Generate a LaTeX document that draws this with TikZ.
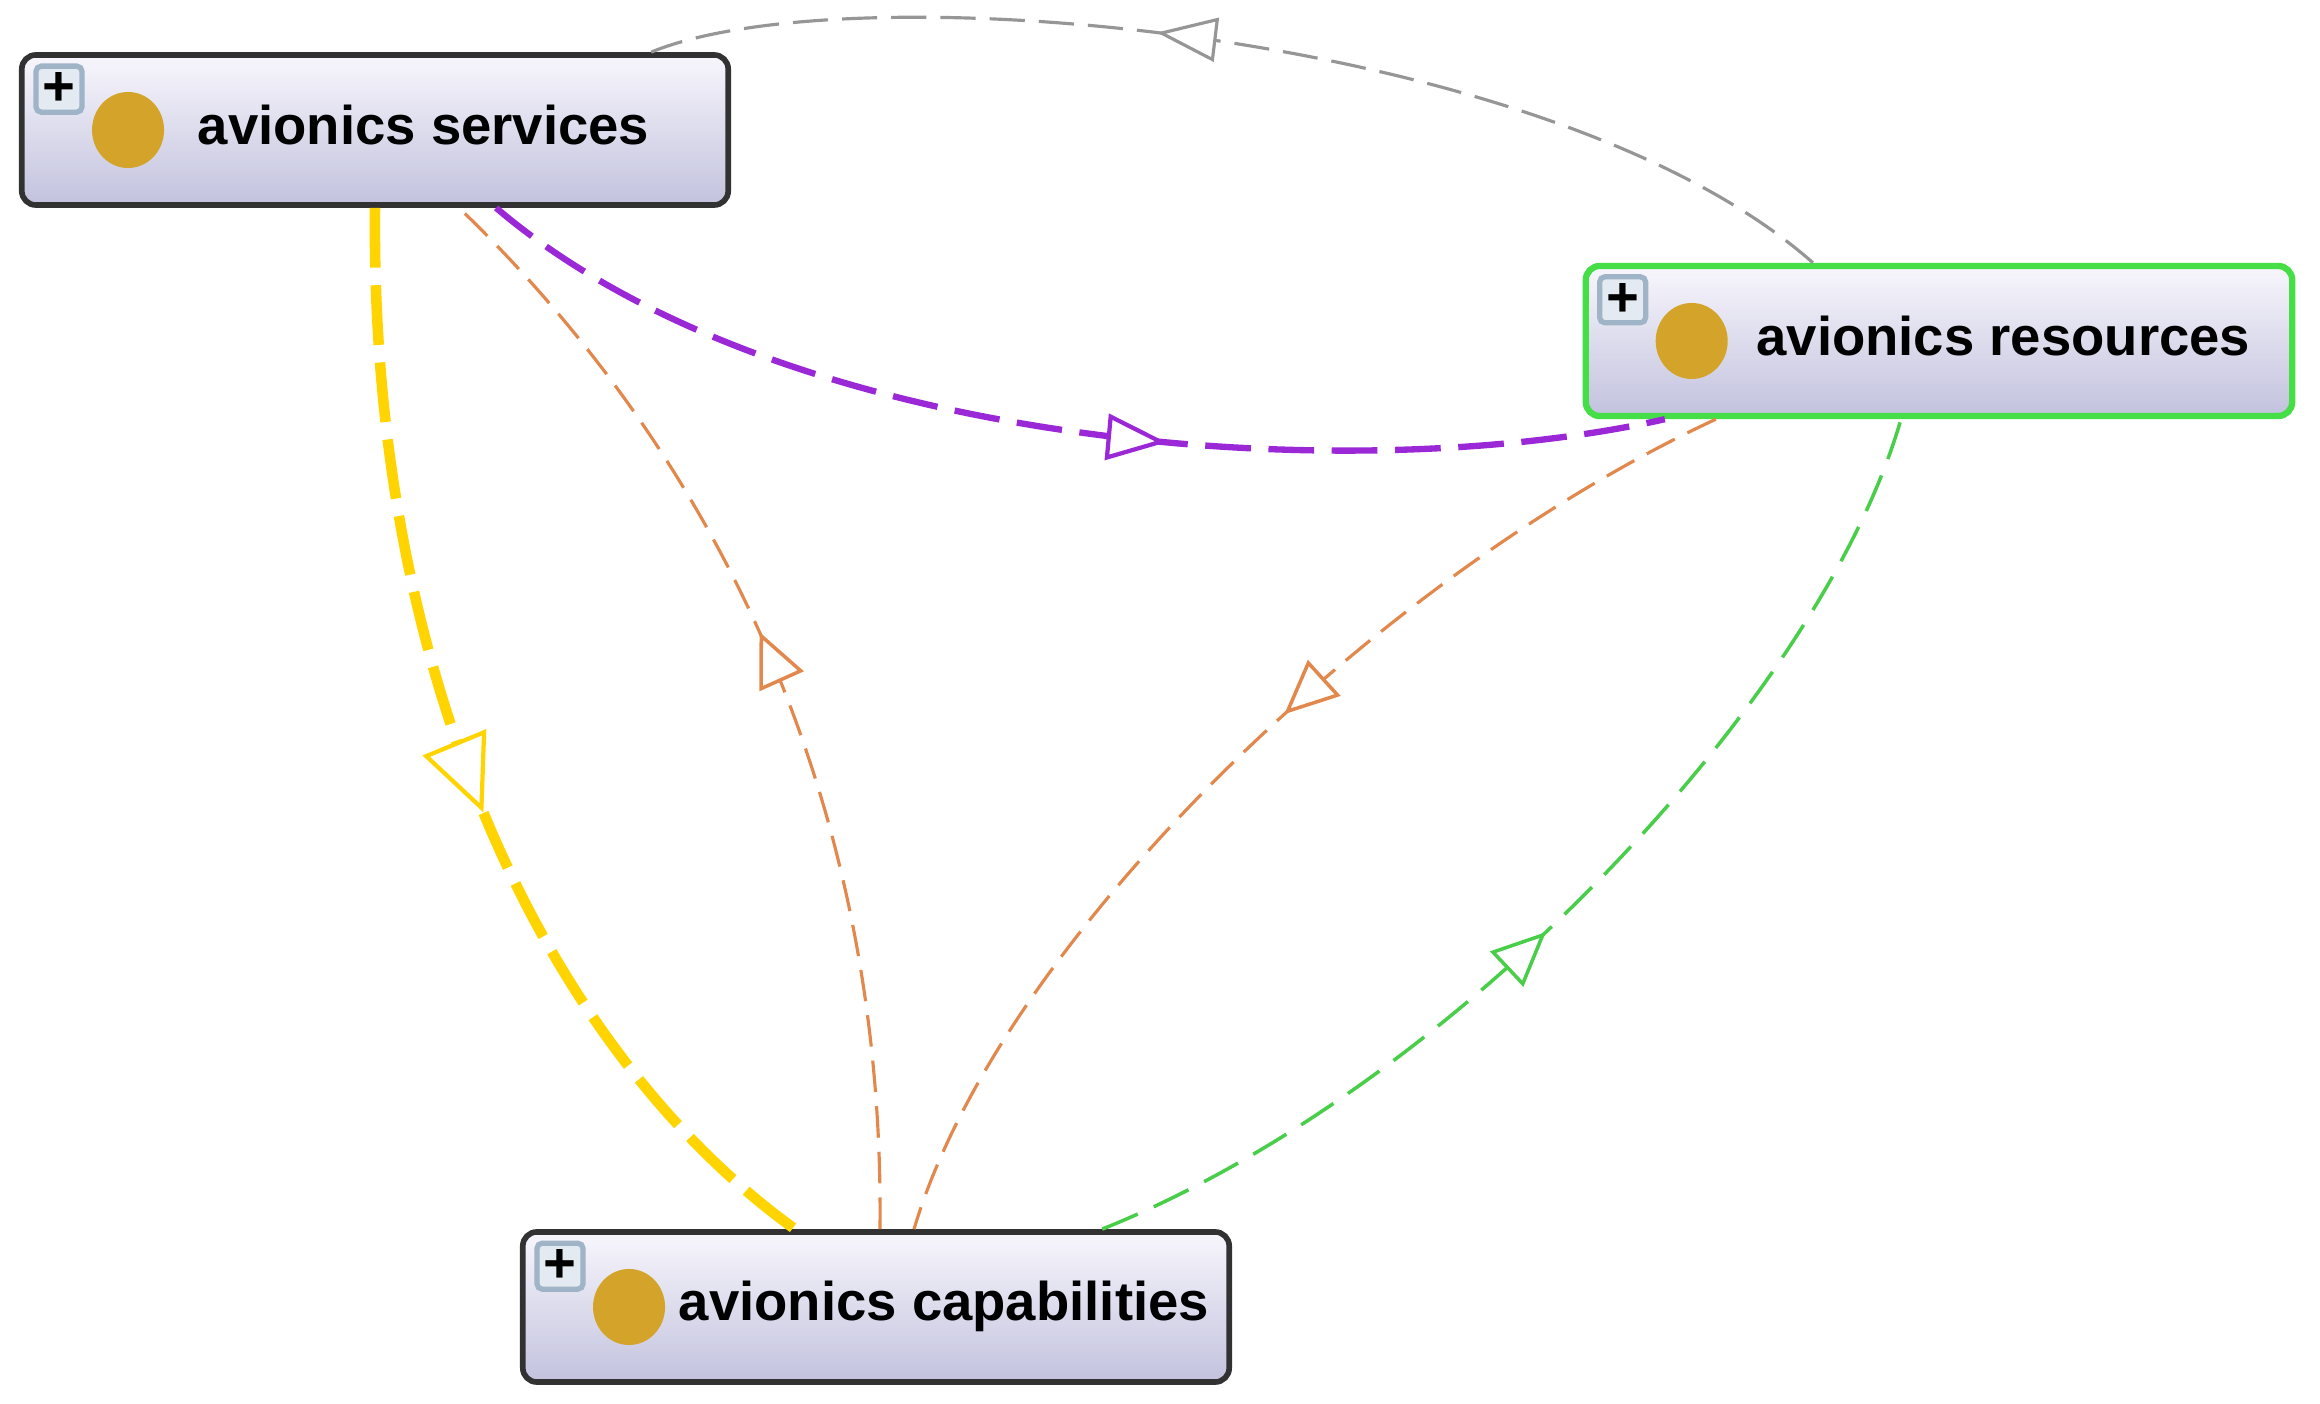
\documentclass[tikz,border=0pt]{standalone}
\usepackage{fontspec}
\setmainfont{Liberation Sans}
\usetikzlibrary{arrows.meta, positioning, shapes.geometric, decorations.markings}

\definecolor{boxtop}{RGB}{248,246,252}
\definecolor{boxbottom}{RGB}{194,194,222}
\definecolor{boxline}{RGB}{50,50,50}
\definecolor{selline}{RGB}{70,222,70}
\definecolor{dotgold}{RGB}{212,164,42}
\definecolor{plusfill}{RGB}{228,234,242}
\definecolor{plusline}{RGB}{160,180,200}
\definecolor{linkyellow}{RGB}{255,212,0}
\definecolor{linkorange}{RGB}{226,136,76}
\definecolor{linkpurple}{RGB}{155,40,215}
\definecolor{linkgreen}{RGB}{72,206,72}
\definecolor{linkgray}{RGB}{150,150,150}

\begin{document}
\begin{tikzpicture}[x=0.01cm, y=-0.01cm,
        box/.style={rectangle, draw=boxline, line width=1.6pt, rounded corners=4pt, minimum width=7.06cm, minimum height=1.5cm, top color=boxtop, bottom color=boxbottom},
        plusbox/.style={rectangle, draw=plusline, line width=1.5pt, fill=plusfill, rounded corners=1.5pt, minimum size=0.46cm, inner sep=0pt, font=\bfseries\fontsize{16}{16}\selectfont},
        dot/.style={ellipse, fill=dotgold, minimum width=0.72cm, minimum height=0.76cm, inner sep=0pt},
        title/.style={anchor=base west, inner sep=0pt, font=\bfseries\fontsize{15.5}{18}\selectfont},
        midtip/.style n args={4}{postaction={decorate}, decoration={markings, mark=at position #1 with {\arrow{Triangle[fill=white, length=#2, width=#3, line width=#4]}}}},
        yellowlink/.style={draw=linkyellow, line width=3pt, dash pattern=on 17pt off 5pt},
        orangelink/.style={draw=linkorange, line width=0.9pt, dash pattern=on 9pt off 4pt},
        purplelink/.style={draw=linkpurple, line width=1.8pt, dash pattern=on 13pt off 5pt},
        greenlink/.style={draw=linkgreen, line width=1pt, dash pattern=on 11pt off 5pt},
        graylink/.style={draw=linkgray, line width=0.9pt, dash pattern=on 10pt off 4pt}
    ]
        \useasboundingbox (0,0) rectangle (2320,1404);

        % classes
        \node[box] (svc) at (375,130) {};
        \node[box, draw=selline, line width=1.8pt] (res) at (1939,341) {};
        \node[box] (cap) at (876,1307) {};

        \node[plusbox] (svcplus) at ([xshift=0.4cm, yshift=-0.37cm]svc.north west) {+};
        \node[dot] (svcdot) at ([xshift=1.09cm]svc.west) {};
        \node[title] (svctext) at ([xshift=1.78cm, yshift=-0.15cm]svc.west) {avionics services};

        \node[plusbox] (resplus) at ([xshift=0.4cm, yshift=-0.37cm]res.north west) {+};
        \node[dot] (resdot) at ([xshift=1.09cm]res.west) {};
        \node[title] (restext) at ([xshift=1.73cm, yshift=-0.15cm]res.west) {avionics resources};

        \node[plusbox] (capplus) at ([xshift=0.4cm, yshift=-0.37cm]cap.north west) {+};
        \node[dot] (capdot) at ([xshift=1.09cm]cap.west) {};
        \node[title] (captext) at ([xshift=1.58cm, yshift=-0.13cm]cap.west) {avionics capabilities};

        % relations
        \draw[graylink, midtip={0.58}{0.6cm}{0.44cm}{0.9pt}] ([xshift=-1.26cm]res.north) .. controls (1550,30) and (850,-30) .. ([xshift=2.76cm]svc.north);
        \draw[purplelink, midtip={0.59}{0.6cm}{0.46cm}{1.2pt}] ([xshift=1.21cm]svc.south) .. controls (780,450) and (1350,490) .. ([xshift=-2.74cm]res.south);
        \draw[yellowlink, midtip={0.54}{0.76cm}{0.68cm}{1.2pt}] (svc.south) .. controls (370,700) and (560,1060) .. ([xshift=-0.81cm]cap.north);
        \draw[orangelink, midtip={0.54}{0.54cm}{0.48cm}{1pt}] ([xshift=0.04cm]cap.north) .. controls (885,780) and (700,440) .. ([xshift=0.84cm]svc.south);
        \draw[orangelink, midtip={0.45}{0.54cm}{0.48cm}{1pt}] ([xshift=-2.23cm]res.south) .. controls (1380,575) and (1000,940) .. ([xshift=0.38cm]cap.north);
        \draw[greenlink, midtip={0.46}{0.54cm}{0.48cm}{1pt}] ([xshift=2.26cm]cap.north) .. controls (1450,1090) and (1820,700) .. ([xshift=-0.38cm]res.south);
    \end{tikzpicture}
\end{document}
